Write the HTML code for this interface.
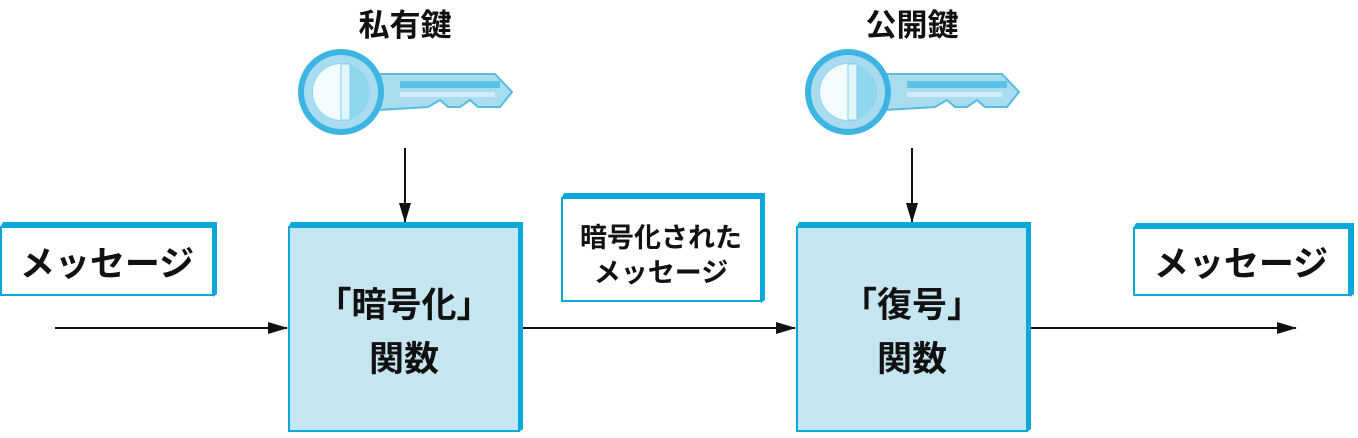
<!DOCTYPE html>
<html><head><meta charset="utf-8"><style>
html,body{margin:0;padding:0;background:#fff;}
text{font-family:"Liberation Sans","Noto Sans CJK JP",sans-serif;font-weight:bold;fill:#111;}
</style></head><body>
<svg width="1358" height="433" viewBox="0 0 1358 433" xmlns="http://www.w3.org/2000/svg">
<defs>
<marker id="ah" markerWidth="20" markerHeight="12" refX="19" refY="6" orient="auto" markerUnits="userSpaceOnUse">
<path d="M0,0 L20,6 L0,12 Z" fill="#111"/>
</marker>
<g id="key">
<path d="M378,74 L495,74 L512,92 L500,107 L478,107 L470,100 L460,107 L448,107 L440,100 L428,107 L378,110 Z" fill="#a9dcee" stroke="#55bde0" stroke-width="2"/>
<rect x="400" y="81" width="100" height="7" fill="#5cc3e6"/>
<rect x="400" y="92" width="95" height="5" fill="#cdeef8"/>
<circle cx="341" cy="92" r="43" fill="#3db5e2"/>
<circle cx="341" cy="92" r="37" fill="#a9dcee"/>
<circle cx="341" cy="92" r="29" fill="#8fd6ef"/>
<path d="M341,64 A28,28 0 0 0 341,120 Z" fill="#f2fbfe"/>
<rect x="341" y="64" width="9" height="56" fill="#e2f5fb" stroke="#7ccfeb"/>
</g>
</defs>
<text x="405" y="36" font-size="31" text-anchor="middle">私有鍵</text>
<text x="912" y="36" font-size="31" text-anchor="middle">公開鍵</text>
<use href="#key"/>
<use href="#key" transform="translate(507,0)"/>
<line x1="405" y1="148" x2="405" y2="222" stroke="#111" stroke-width="2" marker-end="url(#ah)"/>
<line x1="912" y1="148" x2="912" y2="222" stroke="#111" stroke-width="2" marker-end="url(#ah)"/>
<line x1="55" y1="328" x2="287" y2="328" stroke="#111" stroke-width="2" marker-end="url(#ah)"/>
<line x1="523" y1="328" x2="795" y2="328" stroke="#111" stroke-width="2" marker-end="url(#ah)"/>
<line x1="1030" y1="328" x2="1296" y2="328" stroke="#111" stroke-width="2" marker-end="url(#ah)"/>
<g fill="#fff" stroke="#0aa7db">
<rect x="1" y="227" width="212" height="68" stroke-width="2"/>
<rect x="562" y="198" width="199" height="103" stroke-width="2"/>
<rect x="1134" y="228" width="215" height="67" stroke-width="2"/>
</g>
<g fill="#c5e5f0" stroke="#0aa7db" stroke-width="2">
<rect x="289" y="227" width="230" height="204"/>
<rect x="797" y="227" width="230" height="204"/>
</g>
<g fill="#0aa7db">
<polygon points="1,226 3,222 217,222 217,294 213,297 213,226"/>
<polygon points="562,197 564,193 765,193 765,300 761,303 761,197"/>
<polygon points="1134,227 1136,223 1354,223 1354,294 1350,297 1350,227"/>
<polygon points="289,226 291,222 523,222 523,429 519,432 519,226"/>
<polygon points="797,226 799,222 1031,222 1031,429 1027,432 1027,226"/>
</g>
<text x="107" y="276" font-size="35" text-anchor="middle">メッセージ</text>
<text x="1241" y="276" font-size="35" text-anchor="middle">メッセージ</text>
<text x="661" y="247" font-size="27" text-anchor="middle">暗号化された</text>
<text x="661" y="282" font-size="27" text-anchor="middle">メッセージ</text>
<text x="404" y="317" font-size="35" text-anchor="middle">「暗号化」</text>
<text x="404" y="371" font-size="35" text-anchor="middle">関数</text>
<text x="912" y="317" font-size="35" text-anchor="middle">「復号」</text>
<text x="912" y="371" font-size="35" text-anchor="middle">関数</text>
</svg>
</body></html>
